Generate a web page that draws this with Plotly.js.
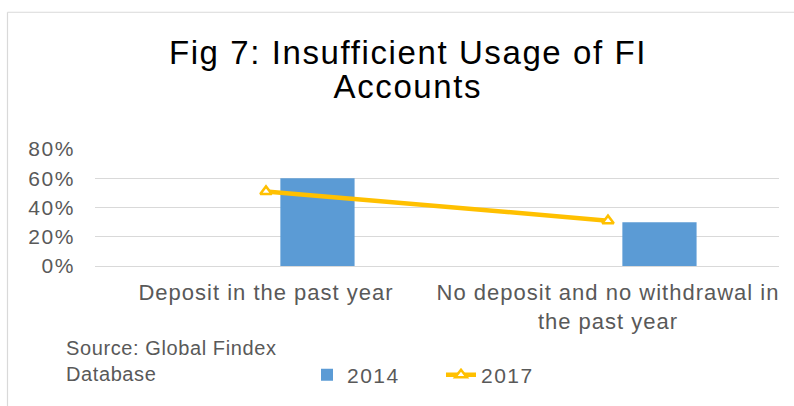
<!DOCTYPE html>
<html>
<head>
<meta charset="utf-8">
<script src="https://cdn.plot.ly/plotly-3.0.1.min.js"></script>
<style>
html,body{margin:0;padding:0;background:#fff;}
#chart{width:794px;height:406px;}
#chart .gtitle{letter-spacing:1.6px;}
#chart .xtick text{letter-spacing:1px;}
#chart .ytick text{letter-spacing:1.6px;}
#chart .legendtext{letter-spacing:1.5px;}
#chart .annotation[data-index="0"] .annotation-text{letter-spacing:1.6px;}
#chart .annotation[data-index="1"] .annotation-text{letter-spacing:0.6px;}
</style>
</head>
<body>
<div id="chart"></div>
<script>
const categories = ["Deposit in the past year", "No deposit and no withdrawal in<br>the past year"];
const values2014 = [0.60, 0.30];
const values2017 = [0.51, 0.31];
const seriesNames = ["2014", "2017"];
const yTickVals = [0, 0.2, 0.4, 0.6, 0.8];
const titleLine1 = "Fig 7: Insufficient Usage of FI";
const titleLine2 = "Accounts";
const sourceText = "Source: Global Findex<br>Database";

const FONT = "Liberation Sans, Arial, Helvetica, sans-serif";
const GREY = "#595959";

// plot area in pixels
const L = 95, R = 15, T = 149, B = 138.5;
const W = 794, H = 406;
const pw = W - L - R, ph = H - T - B;
const px = v => (v - L) / pw;          // pixel x -> paper x
const py = v => (H - B - v) / ph;      // pixel y -> paper y

const traces = [
  {
    type: "bar",
    name: seriesNames[0],
    x: categories,
    y: values2014,
    width: 0.217,
    offset: 0.042,
    marker: {color: "#5b9bd5"},
    hoverinfo: "skip"
  },
  {
    type: "scatter",
    mode: "lines+markers",
    name: seriesNames[1],
    x: categories,
    y: values2017,
    line: {color: "#ffc000", width: 4.5},
    marker: {symbol: "triangle-up", size: 10, color: "#ffffff", line: {color: "#ffc000", width: 2.5}},
    hoverinfo: "skip"
  }
];

const layout = {
  width: W, height: H,
  margin: {l: L, r: R, t: T, b: B, pad: 0},
  paper_bgcolor: "#ffffff",
  plot_bgcolor: "#ffffff",
  font: {family: FONT, color: GREY},
  showlegend: true,
  title: {
    text: titleLine1,
    font: {family: FONT, size: 33, color: "#000000"},
    x: 408 / W, xref: "container", xanchor: "center",
    y: 1 - 52 / H, yref: "container", yanchor: "middle"
  },
  xaxis: {
    type: "category",
    range: [-0.5, 1.5],
    showgrid: false,
    showline: false,
    zeroline: false,
    ticks: "",
    tickfont: {family: FONT, size: 22, color: GREY},
    ticklabelstandoff: 11,
    fixedrange: true
  },
  yaxis: {
    range: [0, 0.8],
    tickvals: yTickVals,
    tickformat: ".0%",
    showgrid: true,
    gridcolor: "#d9d9d9",
    gridwidth: 1,
    zeroline: true,
    zerolinecolor: "#d9d9d9",
    zerolinewidth: 1,
    showline: false,
    ticks: "",
    tickfont: {family: FONT, size: 21, color: GREY},
    ticklabelstandoff: 19,
    fixedrange: true
  },
  legend: {
    orientation: "h",
    x: px(307), xanchor: "left",
    y: py(376), yanchor: "middle",
    font: {family: FONT, size: 21, color: GREY},
    bgcolor: "rgba(0,0,0,0)",
    traceorder: "normal",
    entrywidth: 89
  },
  annotations: [
    {
      text: titleLine2,
      xref: "paper", yref: "paper",
      x: px(408), y: py(86),
      xanchor: "center", yanchor: "middle",
      showarrow: false,
      font: {family: FONT, size: 33, color: "#000000"}
    },
    {
      text: sourceText,
      xref: "paper", yref: "paper",
      x: px(64), y: py(363.5),
      xanchor: "left", yanchor: "middle", align: "left",
      showarrow: false,
      font: {family: FONT, size: 20, color: GREY}
    }
  ],
  shapes: [
    {type: "line", xref: "paper", yref: "paper", x0: px(7.5), x1: px(7.5), y0: py(10.5), y1: py(410), line: {color: "#d9d9d9", width: 1.2}},
    {type: "line", xref: "paper", yref: "paper", x0: px(7.5), x1: px(800), y0: py(10.5), y1: py(10.5), line: {color: "#d9d9d9", width: 1.2}}
  ]
};

Plotly.newPlot("chart", traces, layout, {displayModeBar: false, staticPlot: true});
</script>
</body>
</html>
